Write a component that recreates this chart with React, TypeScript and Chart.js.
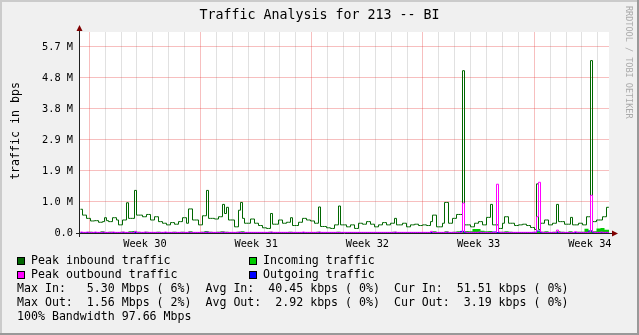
import React, { useEffect, useRef } from 'react';
import { Chart, registerables } from 'chart.js';

Chart.register(...registerables);

const W = 639;
const H = 335;

// ---- axis labels ----
const weekLabels = ['Week 30', 'Week 31', 'Week 32', 'Week 33', 'Week 34'];
const yTickLabels = ['0.0', '1.0 M', '1.9 M', '2.9 M', '3.8 M', '4.8 M', '5.7 M'];
const yTickStep = 0.953674; // 1,000,000 shown in 1,048,576 units
const yMax = 6.18;

// x axis unit = one 6-hour sample; peak series are sampled twice as often
const xMin = -0.125;
const xMax = 132.125;
const firstDay = 2.2;
const dayLen = 3.9725;
const nDays = 33;

// ---- peak series (Mbps, 3-hour samples) ----
const peakIn = [
  0.73, 0.73, 0.55, 0.55, 0.45, 0.45, 0.37, 0.37, 0.38, 0.38, 0.33, 0.33, 0.35, 0.47, 0.38, 0.35, 0.35, 0.47, 0.47, 0.40,
  0.25, 0.25, 0.40, 0.40, 0.93, 0.45, 0.45, 0.45, 1.31, 0.55, 0.55, 0.55, 0.50, 0.50, 0.57, 0.57, 0.40, 0.40, 0.50, 0.50,
  0.35, 0.35, 0.30, 0.30, 0.25, 0.25, 0.32, 0.32, 0.27, 0.27, 0.35, 0.35, 0.47, 0.47, 0.30, 0.74, 0.74, 0.40, 0.40, 0.40,
  0.25, 0.25, 0.53, 0.53, 1.31, 0.45, 0.45, 0.45, 0.43, 0.43, 0.50, 0.50, 0.88, 0.60, 0.79, 0.40, 0.40, 0.40, 0.19, 0.19,
  0.70, 0.94, 0.45, 0.30, 0.30, 0.30, 0.43, 0.43, 0.30, 0.30, 0.23, 0.23, 0.16, 0.16, 0.14, 0.14, 0.60, 0.27, 0.27, 0.27,
  0.40, 0.40, 0.30, 0.30, 0.33, 0.33, 0.47, 0.23, 0.23, 0.23, 0.33, 0.33, 0.45, 0.45, 0.40, 0.40, 0.37, 0.37, 0.30, 0.30,
  0.80, 0.20, 0.20, 0.20, 0.16, 0.16, 0.14, 0.14, 0.25, 0.25, 0.83, 0.25, 0.25, 0.25, 0.19, 0.19, 0.25, 0.25, 0.14, 0.14,
  0.30, 0.30, 0.27, 0.27, 0.35, 0.35, 0.27, 0.27, 0.19, 0.19, 0.25, 0.25, 0.32, 0.32, 0.25, 0.25, 0.30, 0.30, 0.45, 0.25,
  0.25, 0.25, 0.30, 0.30, 0.19, 0.19, 0.25, 0.25, 0.27, 0.27, 0.23, 0.23, 0.25, 0.25, 0.23, 0.23, 0.35, 0.55, 0.55, 0.19,
  0.19, 0.19, 0.30, 0.94, 0.94, 0.30, 0.30, 0.45, 0.45, 0.57, 0.57, 0.57, 4.99, 0.25, 0.25, 0.25, 0.19, 0.19, 0.30, 0.30,
  0.35, 0.35, 0.25, 0.25, 0.48, 0.48, 0.88, 0.25, 0.25, 0.25, 0.14, 0.14, 0.30, 0.50, 0.50, 0.30, 0.30, 0.30, 0.23, 0.23,
  0.25, 0.25, 0.27, 0.27, 0.23, 0.23, 0.17, 0.17, 0.11, 1.51, 0.11, 0.30, 0.30, 0.40, 0.40, 0.25, 0.25, 0.30, 0.30, 0.88,
  0.35, 0.35, 0.35, 0.27, 0.27, 0.27, 0.48, 0.25, 0.25, 0.25, 0.30, 0.30, 0.25, 0.25, 0.50, 0.50, 5.30, 0.35, 0.35, 0.40,
  0.40, 0.40, 0.50, 0.50, 0.79,
];

const peakOut = [
  0.02, 0.03, 0.02, 0.02, 0.03, 0.02, 0.02, 0.02, 0.03, 0.02, 0.02, 0.02, 0.03, 0.02, 0.02, 0.02, 0.02, 0.03, 0.02, 0.02,
  0.02, 0.02, 0.03, 0.02, 0.02, 0.02, 0.02, 0.02, 0.05, 0.02, 0.02, 0.02, 0.02, 0.03, 0.02, 0.02, 0.02, 0.02, 0.02, 0.02,
  0.02, 0.02, 0.02, 0.03, 0.02, 0.02, 0.02, 0.02, 0.02, 0.02, 0.02, 0.02, 0.02, 0.02, 0.02, 0.03, 0.02, 0.02, 0.02, 0.02,
  0.02, 0.02, 0.02, 0.02, 0.03, 0.02, 0.02, 0.02, 0.02, 0.02, 0.02, 0.02, 0.03, 0.02, 0.02, 0.02, 0.02, 0.02, 0.02, 0.02,
  0.03, 0.02, 0.02, 0.02, 0.02, 0.02, 0.02, 0.02, 0.02, 0.02, 0.02, 0.02, 0.02, 0.02, 0.02, 0.02, 0.03, 0.02, 0.02, 0.02,
  0.02, 0.02, 0.02, 0.02, 0.02, 0.02, 0.02, 0.02, 0.02, 0.02, 0.02, 0.02, 0.03, 0.02, 0.02, 0.02, 0.02, 0.02, 0.02, 0.02,
  0.03, 0.02, 0.02, 0.02, 0.02, 0.02, 0.02, 0.02, 0.02, 0.02, 0.02, 0.02, 0.02, 0.02, 0.02, 0.02, 0.02, 0.02, 0.02, 0.02,
  0.02, 0.02, 0.02, 0.02, 0.02, 0.02, 0.02, 0.02, 0.02, 0.02, 0.02, 0.02, 0.02, 0.02, 0.02, 0.02, 0.02, 0.02, 0.03, 0.02,
  0.02, 0.02, 0.02, 0.02, 0.02, 0.02, 0.02, 0.02, 0.02, 0.02, 0.02, 0.02, 0.02, 0.02, 0.02, 0.02, 0.05, 0.02, 0.02, 0.02,
  0.02, 0.02, 0.02, 0.02, 0.03, 0.02, 0.02, 0.02, 0.02, 0.02, 0.02, 0.02, 0.92, 0.03, 0.02, 0.02, 0.02, 0.02, 0.02, 0.02,
  0.03, 0.02, 0.02, 0.02, 0.02, 0.02, 0.02, 0.02, 0.02, 1.50, 0.03, 0.02, 0.02, 0.02, 0.02, 0.02, 0.02, 0.02, 0.02, 0.02,
  0.02, 0.02, 0.02, 0.02, 0.02, 0.02, 0.02, 0.02, 0.02, 0.50, 1.56, 0.03, 0.02, 0.02, 0.02, 0.02, 0.02, 0.02, 0.02, 0.09,
  0.02, 0.02, 0.02, 0.02, 0.02, 0.02, 0.02, 0.02, 0.04, 0.02, 0.02, 0.02, 0.02, 0.02, 0.02, 0.03, 1.16, 0.03, 0.02, 0.02,
  0.02, 0.03, 0.02, 0.02, 0.02,
];

// ---- average series (Mbps, 6-hour samples) ----
const incoming = [
  0.04, 0.03, 0.03, 0.04, 0.03, 0.03, 0.05, 0.03, 0.04, 0.03,
  0.03, 0.04, 0.03, 0.05, 0.06, 0.04, 0.03, 0.04, 0.03, 0.03,
  0.04, 0.03, 0.03, 0.03, 0.04, 0.03, 0.04, 0.03, 0.05, 0.03,
  0.03, 0.04, 0.06, 0.04, 0.03, 0.04, 0.05, 0.04, 0.03, 0.02,
  0.04, 0.05, 0.03, 0.03, 0.03, 0.02, 0.02, 0.02, 0.04, 0.03,
  0.03, 0.03, 0.03, 0.04, 0.02, 0.03, 0.03, 0.03, 0.03, 0.03,
  0.04, 0.02, 0.02, 0.02, 0.03, 0.04, 0.02, 0.02, 0.03, 0.02,
  0.03, 0.03, 0.03, 0.03, 0.02, 0.03, 0.03, 0.03, 0.03, 0.04,
  0.03, 0.03, 0.02, 0.03, 0.03, 0.03, 0.03, 0.03, 0.03, 0.05,
  0.02, 0.03, 0.05, 0.03, 0.04, 0.05, 0.06, 0.06, 0.05, 0.12,
  0.12, 0.07, 0.05, 0.06, 0.03, 0.02, 0.04, 0.05, 0.04, 0.03,
  0.03, 0.03, 0.03, 0.02, 0.02, 0.05, 0.04, 0.05, 0.03, 0.04,
  0.05, 0.04, 0.03, 0.05, 0.03, 0.04, 0.04, 0.13, 0.08, 0.05,
  0.14, 0.15, 0.10,
];

const outgoing = [
  0.01, 0.01, 0.01, 0.01, 0.01, 0.01, 0.01, 0.01, 0.01, 0.01,
  0.01, 0.01, 0.01, 0.01, 0.02, 0.01, 0.01, 0.01, 0.01, 0.01,
  0.01, 0.01, 0.01, 0.01, 0.01, 0.01, 0.01, 0.01, 0.01, 0.01,
  0.01, 0.01, 0.02, 0.01, 0.01, 0.01, 0.01, 0.01, 0.01, 0.01,
  0.01, 0.01, 0.01, 0.01, 0.01, 0.01, 0.01, 0.01, 0.01, 0.01,
  0.01, 0.01, 0.01, 0.01, 0.01, 0.01, 0.01, 0.01, 0.01, 0.01,
  0.01, 0.01, 0.01, 0.01, 0.01, 0.01, 0.01, 0.01, 0.01, 0.01,
  0.01, 0.01, 0.01, 0.01, 0.01, 0.01, 0.01, 0.01, 0.01, 0.01,
  0.01, 0.01, 0.01, 0.01, 0.01, 0.01, 0.01, 0.01, 0.01, 0.01,
  0.01, 0.01, 0.01, 0.01, 0.01, 0.01, 0.05, 0.01, 0.01, 0.01,
  0.01, 0.01, 0.01, 0.01, 0.03, 0.01, 0.01, 0.01, 0.01, 0.01,
  0.01, 0.01, 0.01, 0.01, 0.02, 0.06, 0.01, 0.01, 0.01, 0.01,
  0.01, 0.01, 0.01, 0.01, 0.01, 0.01, 0.01, 0.01, 0.06, 0.01,
  0.01, 0.01, 0.01,
];

const legendRows = [
  'Max In:   5.30 Mbps ( 6%)  Avg In:  40.45 kbps ( 0%)  Cur In:  51.51 kbps ( 0%)',
  'Max Out:  1.56 Mbps ( 2%)  Avg Out:  2.92 kbps ( 0%)  Cur Out:  3.19 kbps ( 0%)',
  '100% Bandwidth 97.66 Mbps',
];

const series = [
  { label: 'Peak inbound traffic', color: '#006600' },
  { label: 'Incoming traffic', color: '#00CC00' },
  { label: 'Peak outbound traffic', color: '#FF00FF' },
  { label: 'Outgoing traffic', color: '#0000FF' },
];

const MONO = '"DejaVu Sans Mono", monospace';
const RED_GRID = 'rgba(230,60,60,0.33)';
const GRAY_GRID = 'rgba(140,140,140,0.26)';

function toPoints(arr: number[], perUnit: number) {
  const pts = arr.map((v, i) => ({ x: i / perUnit, y: v }));
  pts.push({ x: xMax, y: arr[arr.length - 1] });
  return pts;
}

const rrdPlugin = {
  id: 'rrdDecor',
  beforeDraw(chart: any) {
    const { ctx, chartArea: a } = chart;
    ctx.save();
    ctx.fillStyle = '#F0F0F0';
    ctx.fillRect(0, 0, W, H);
    ctx.fillStyle = '#CBCBCB';
    ctx.fillRect(0, 0, W, 2);
    ctx.fillRect(0, 0, 2, H);
    ctx.fillStyle = '#999999';
    ctx.fillRect(0, H - 2, W, 2);
    ctx.fillRect(W - 2, 0, 2, H);
    ctx.fillStyle = '#FFFFFF';
    ctx.fillRect(a.left, a.top, a.right - a.left, a.bottom - a.top);
    ctx.restore();
  },
  beforeDatasetsDraw(chart: any) {
    const { ctx, chartArea: a } = chart;
    ctx.save();
    ctx.strokeStyle = '#202020';
    ctx.lineWidth = 1;
    ctx.beginPath();
    ctx.moveTo(a.left - 0.5, a.bottom + 4);
    ctx.lineTo(a.left - 0.5, a.top - 2);
    ctx.moveTo(a.left - 4, a.bottom + 0.5);
    ctx.lineTo(a.right + 4, a.bottom + 0.5);
    ctx.stroke();
    ctx.fillStyle = '#7F0000';
    ctx.beginPath();
    ctx.moveTo(a.left - 3.5, a.top - 1);
    ctx.lineTo(a.left + 2.5, a.top - 1);
    ctx.lineTo(a.left - 0.5, a.top - 7);
    ctx.closePath();
    ctx.fill();
    ctx.beginPath();
    ctx.moveTo(a.right + 3, a.bottom - 2.5);
    ctx.lineTo(a.right + 3, a.bottom + 3.5);
    ctx.lineTo(a.right + 9, a.bottom + 0.5);
    ctx.closePath();
    ctx.fill();
    ctx.restore();
  },
  afterDraw(chart: any) {
    const { ctx } = chart;
    ctx.save();
    ctx.fillStyle = '#000';
    ctx.textBaseline = 'middle';
    ctx.font = `13.3px ${MONO}`;
    ctx.textAlign = 'center';
    ctx.fillText('Traffic Analysis for 213 -- BI', 319.5, 16);
    ctx.save();
    ctx.translate(16, 131);
    ctx.rotate(-Math.PI / 2);
    ctx.font = `11.6px ${MONO}`;
    ctx.fillText('traffic in bps', 0, 0);
    ctx.restore();
    ctx.save();
    ctx.translate(628, 6);
    ctx.rotate(Math.PI / 2);
    ctx.font = `8.5px ${MONO}`;
    ctx.fillStyle = '#AAAAAA';
    ctx.textAlign = 'left';
    ctx.fillText('RRDTOOL / TOBI OETIKER', 0, 0);
    ctx.restore();
    ctx.font = `11.6px ${MONO}`;
    ctx.textAlign = 'left';
    const boxes = [
      { s: series[0], x: 17, y: 261 },
      { s: series[1], x: 249, y: 261 },
      { s: series[2], x: 17, y: 275 },
      { s: series[3], x: 249, y: 275 },
    ];
    boxes.forEach((b) => {
      ctx.fillStyle = b.s.color;
      ctx.fillRect(b.x, b.y - 4, 8, 8);
      ctx.strokeStyle = '#000';
      ctx.lineWidth = 1;
      ctx.strokeRect(b.x + 0.5, b.y - 3.5, 7, 7);
      ctx.fillStyle = '#000';
      ctx.fillText(b.s.label, b.x + 14, b.y);
    });
    legendRows.forEach((t, i) => {
      ctx.fillText(t, 17, 289 + i * 14);
    });
    ctx.restore();
  },
};

export default function App() {
  const ref = useRef<HTMLCanvasElement | null>(null);

  useEffect(() => {
    if (!ref.current) return;
    const dayTicks = Array.from({ length: nDays }, (_, k) => firstDay + k * dayLen);
    const weekTicks = weekLabels.map((_, k) => firstDay + dayLen * (3.5 + 7 * k));
    const xTicks = [...dayTicks, ...weekTicks];
    const yTicks = yTickLabels.map((_, k) => k * yTickStep);

    const base = { stepped: 'after' as const, pointRadius: 0, borderWidth: 1, tension: 0 };

    const chart = new Chart(ref.current, {
      type: 'line',
      data: {
        datasets: [
          { ...base, label: series[1].label, data: toPoints(incoming, 1), borderColor: '#00CC00', backgroundColor: '#00CC00', fill: 'origin', borderWidth: 0, order: 4 },
          { ...base, label: series[3].label, data: toPoints(outgoing, 1), borderColor: '#0000FF', fill: false, order: 3 },
          { ...base, label: series[0].label, data: toPoints(peakIn, 2), borderColor: '#006600', fill: false, order: 2 },
          { ...base, label: series[2].label, data: toPoints(peakOut, 2), borderColor: '#FF00FF', fill: false, order: 1 },
        ],
      },
      options: {
        responsive: false,
        maintainAspectRatio: false,
        animation: false,
        devicePixelRatio: 1,
        layout: { padding: { top: 32, right: 30, left: 0, bottom: 0 } },
        plugins: { legend: { display: false }, tooltip: { enabled: false }, title: { display: false } },
        scales: {
          x: {
            type: 'linear',
            min: xMin,
            max: xMax,
            afterBuildTicks: (scale: any) => {
              scale.ticks = xTicks.map((v) => ({ value: v }));
            },
            afterFit: (scale: any) => {
              scale.height = H - 233;
            },
            border: { display: false },
            grid: {
              drawTicks: false,
              lineWidth: 1,
              color: (c: any) =>
                c.index >= nDays ? 'rgba(0,0,0,0)' : c.index % 7 === 0 ? RED_GRID : GRAY_GRID,
            },
            ticks: {
              autoSkip: false,
              maxRotation: 0,
              minRotation: 0,
              padding: 5,
              color: '#000',
              font: { family: MONO, size: 10.3 },
              callback: (_v: any, i: number) => (i >= nDays ? weekLabels[i - nDays] : ''),
            },
          },
          y: {
            type: 'linear',
            min: 0,
            max: yMax,
            afterBuildTicks: (scale: any) => {
              scale.ticks = yTicks.map((v) => ({ value: v }));
            },
            afterFit: (scale: any) => {
              scale.width = 80;
            },
            border: { display: false },
            grid: {
              drawTicks: false,
              lineWidth: 1,
              color: (c: any) => (c.index === 0 ? 'rgba(0,0,0,0)' : RED_GRID),
            },
            ticks: {
              autoSkip: false,
              padding: 7,
              color: '#000',
              font: { family: MONO, size: 10.3 },
              callback: (_v: any, i: number) => yTickLabels[i],
            },
          },
        },
      },
      plugins: [rrdPlugin],
    } as any);

    return () => chart.destroy();
  }, []);

  return (
    <div style={{ position: 'absolute', left: 0, top: 0, width: W, height: H }}>
      <canvas ref={ref} width={W} height={H} style={{ display: 'block', width: W, height: H }} />
    </div>
  );
}
